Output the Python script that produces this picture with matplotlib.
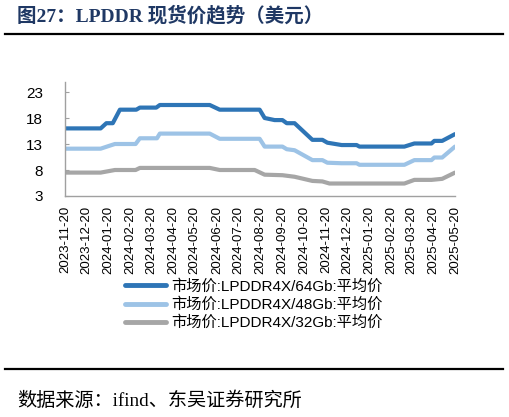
import matplotlib
matplotlib.use("Agg")
import matplotlib.pyplot as plt
from matplotlib.lines import Line2D
import pandas as pd

plt.rcParams['font.family'] = ['Liberation Sans', 'Noto Sans CJK SC', 'DejaVu Sans']

# ---- data ----
dates_64 = ["2023-11-20", "2024-01-09", "2024-01-17", "2024-01-26", "2024-02-05", "2024-02-28",
            "2024-03-04", "2024-03-27", "2024-04-01", "2024-06-10", "2024-06-24", "2024-08-19",
            "2024-08-26", "2024-09-09", "2024-09-20", "2024-09-26", "2024-10-07", "2024-11-01",
            "2024-11-15", "2024-11-22", "2024-12-12", "2025-01-02", "2025-01-06", "2025-03-10",
            "2025-03-24", "2025-04-17", "2025-04-21", "2025-05-02", "2025-05-20"]
vals_64 = [16.0, 16.0, 17.0, 17.0, 19.6, 19.6,
           20.0, 20.0, 20.5, 20.5, 19.6, 19.6,
           18.0, 17.6, 17.6, 17.0, 17.0, 13.8,
           13.8, 13.25, 12.8, 12.8, 12.5, 12.5,
           13.1, 13.1, 13.6, 13.6, 14.9]

dates_48 = ["2023-11-20", "2024-01-09", "2024-01-20", "2024-01-29", "2024-02-27", "2024-03-04",
            "2024-03-28", "2024-04-01", "2024-06-10", "2024-06-24", "2024-08-19", "2024-08-26",
            "2024-09-20", "2024-09-26", "2024-10-07", "2024-11-01", "2024-11-15", "2024-11-22",
            "2024-12-12", "2025-01-02", "2025-01-06", "2025-03-10", "2025-03-24", "2025-04-17",
            "2025-04-21", "2025-05-02", "2025-05-20"]
vals_48 = [12.1, 12.1, 12.6, 13.0, 13.0, 14.1,
           14.1, 15.0, 15.0, 14.0, 14.0, 12.5,
           12.5, 12.0, 11.8, 9.9, 9.9, 9.4,
           9.3, 9.3, 9.0, 9.0, 9.9, 9.9,
           10.4, 10.4, 12.5]

dates_32 = ["2023-11-20", "2024-01-09", "2024-01-29", "2024-02-27", "2024-03-04", "2024-06-10",
            "2024-06-24", "2024-08-12", "2024-08-26", "2024-09-20", "2024-10-07", "2024-11-01",
            "2024-11-15", "2024-11-25", "2025-03-10", "2025-03-24", "2025-04-17", "2025-05-02",
            "2025-05-20"]
vals_32 = [7.5, 7.5, 8.0, 8.0, 8.4, 8.4,
           8.0, 8.0, 7.1, 7.0, 6.7, 5.9,
           5.8, 5.4, 5.4, 6.1, 6.1, 6.3,
           7.5]

tick_dates = ["2023-11-20", "2023-12-20", "2024-01-20", "2024-02-20", "2024-03-20", "2024-04-20",
              "2024-05-20", "2024-06-20", "2024-07-20", "2024-08-20", "2024-09-20", "2024-10-20",
              "2024-11-20", "2024-12-20", "2025-01-20", "2025-02-20", "2025-03-20", "2025-04-20",
              "2025-05-20"]
y_ticks = [3, 8, 13, 18, 23]
series_labels = ["市场价:LPDDR4X/64Gb:平均价", "市场价:LPDDR4X/48Gb:平均价", "市场价:LPDDR4X/32Gb:平均价"]
colors = ["#2E75B6", "#9DC3E6", "#A6A6A6"]

title = "图27：LPDDR 现货价趋势（美元）"
source = "数据来源：ifind、东吴证券研究所"

# ---- figure ----
W, H = 510, 417
fig = plt.figure(figsize=(W / 100, H / 100), dpi=100)
ax = fig.add_axes([65 / W, 1 - 196 / H, 390 / W, 114.4 / H])

for d, v, c, lab in zip([dates_64, dates_48, dates_32], [vals_64, vals_48, vals_32], colors, series_labels):
    ax.plot(pd.to_datetime(d), v, color=c, lw=3.0, label=lab, solid_capstyle='round', solid_joinstyle='round')

tds = pd.to_datetime(tick_dates)
ax.set_xlim(tds[0], tds[-1])
ax.set_xticks(tds)
ax.set_xticklabels(tick_dates, rotation=90, fontsize=9.5, color="#000000")
ax.tick_params(axis='x', length=0, pad=7)
ax.set_ylim(3, 25)
ax.set_yticks(y_ticks)
ax.set_yticklabels([str(t) for t in y_ticks], fontsize=11)
ax.tick_params(axis='y', direction='in', length=3, color="#A0A0A0", pad=16)

for s in ['top', 'right']:
    ax.spines[s].set_visible(False)
for s in ['left', 'bottom']:
    ax.spines[s].set_color("#A0A0A0")
    ax.spines[s].set_linewidth(1.0)

leg = fig.legend(loc='upper left', bbox_to_anchor=(125 / W, 1 - 279 / H), frameon=False,
                 fontsize=11, handlelength=2.7, handletextpad=0.3, labelspacing=0.25,
                 borderaxespad=0, borderpad=0)
for line in leg.get_lines():
    line.set_linewidth(3.5)

# title, rules, source
fig.text(17 / W, 1 - 16 / H, title, fontsize=14, fontweight='bold', color="#1F3864",
         family=['Liberation Serif', 'Noto Sans CJK SC'], va='center', ha='left')
fig.add_artist(Line2D([5 / W, 503 / W], [1 - 34 / H, 1 - 34 / H], color='black', lw=1.6))
fig.add_artist(Line2D([5 / W, 503 / W], [1 - 369 / H, 1 - 369 / H], color='black', lw=1.6))
fig.text(17 / W, 1 - 401 / H, source, fontsize=13.8, color="#000000",
         family=['Liberation Serif', 'Noto Sans CJK SC'], va='center', ha='left')

fig.savefig("out.png", dpi=100)
